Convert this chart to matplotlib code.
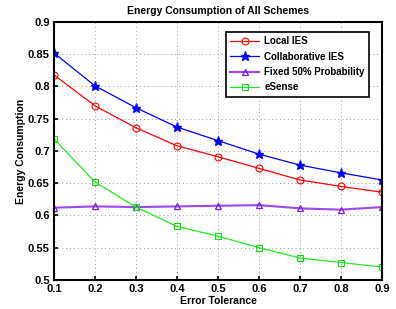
import matplotlib
matplotlib.use("Agg")
from matplotlib import pyplot as plt

# error tolerance values
tolerance = [0.1, 0.2, 0.3, 0.4, 0.5, 0.6, 0.7, 0.8, 0.9]

# energy consumption per scheme
local_ies = [0.818, 0.770, 0.736, 0.708, 0.691, 0.673, 0.655, 0.645, 0.636]
collab_ies = [0.852, 0.801, 0.767, 0.737, 0.716, 0.695, 0.678, 0.666, 0.655]
fixed_50 = [0.612, 0.614, 0.613, 0.614, 0.615, 0.616, 0.611, 0.609, 0.613]
esense = [0.719, 0.652, 0.613, 0.583, 0.568, 0.550, 0.534, 0.527, 0.520]

plt.rcParams['font.family'] = ['Liberation Sans', 'DejaVu Sans']
plt.rcParams['font.weight'] = 'bold'

fig = plt.figure(figsize=(3.96, 3.09), dpi=100)
ax = fig.add_axes([0.136, 0.094, 0.829, 0.835])

ax.plot(tolerance, local_ies, color='#ff0000', lw=0.9, marker='o', ms=5,
        mfc='none', mec='#ff0000', mew=0.8, label='Local IES')
ax.plot(tolerance, collab_ies, color='#0000ff', lw=0.9, marker='*', ms=6.5,
        mfc='#0000ff', mec='#0000ff', label='Collaborative IES')
ax.plot(tolerance, fixed_50, color='#9d45f0', lw=1.5, marker='^', ms=5,
        mfc='none', mec='#7a1ce0', mew=0.9, label='Fixed 50% Probability')
ax.plot(tolerance, esense, color='#22ee22', lw=0.9, marker='s', ms=4,
        mfc='none', mec='#11dd11', mew=0.8, label='eSense')

ax.set_xlim(0.1, 0.9)
ax.set_ylim(0.5, 0.9)
ax.set_xticks(tolerance)
ax.set_xticklabels([str(t) for t in tolerance])
ax.set_yticks([0.5, 0.55, 0.6, 0.65, 0.7, 0.75, 0.8, 0.85, 0.9])
ax.set_yticklabels(['0.5', '0.55', '0.6', '0.65', '0.7', '0.75', '0.8', '0.85', '0.9'])
ax.tick_params(labelsize=8, direction='in', length=3, width=1.2, pad=3)
ax.grid(True, linestyle=(0, (1, 3)), color='#999999', lw=0.7)
for s in ax.spines.values():
    s.set_linewidth(1.5)

ax.set_xlabel('Error Tolerance', fontsize=7.5, fontweight='bold', labelpad=1)
ax.set_ylabel('Energy Consumption', fontsize=7.5, fontweight='bold', labelpad=1)
ax.set_title('Energy Consumption of All Schemes', fontsize=7.5, fontweight='bold', pad=6)

leg = ax.legend(loc='upper right', bbox_to_anchor=(0.960, 0.961), borderaxespad=0,
                fontsize=7, fancybox=False, framealpha=1, edgecolor='black',
                handlelength=3, labelspacing=0.55, borderpad=0.45, handletextpad=0.5)
leg.get_frame().set_linewidth(1.2)

fig.savefig('out.png', dpi=100)
